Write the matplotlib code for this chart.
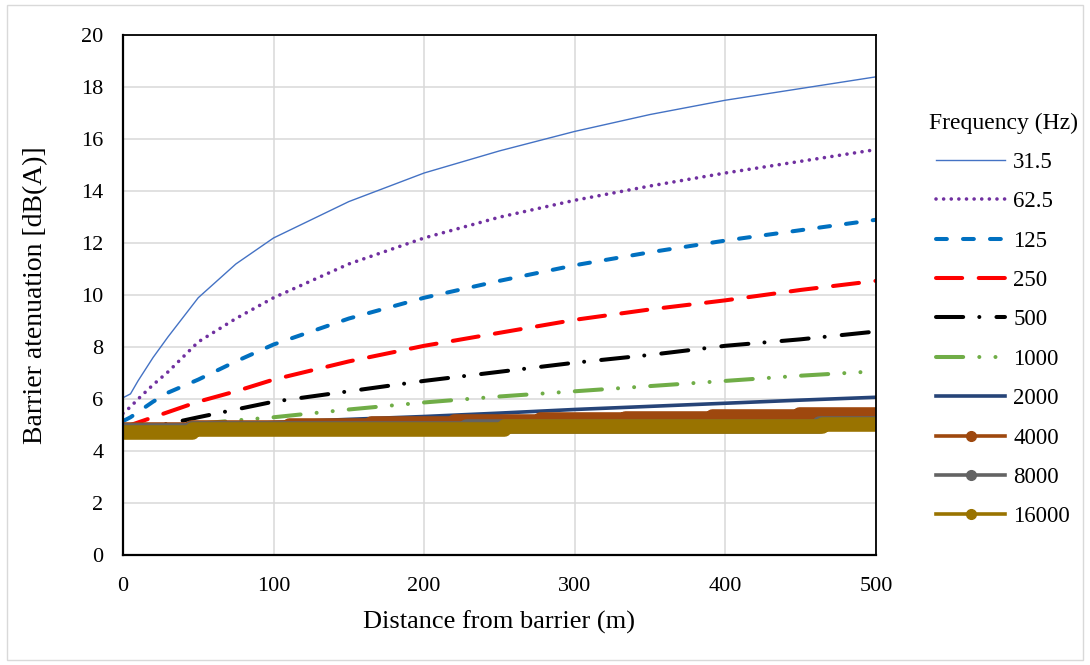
import numpy as np
import matplotlib
matplotlib.use("Agg")
import matplotlib.pyplot as plt
from matplotlib.lines import Line2D
from matplotlib.patches import Rectangle

plt.rcParams['font.family'] = ['Liberation Serif', 'DejaVu Serif']

# distance from barrier (m) for the smooth curves
dist = [0, 5, 10, 20, 30, 50, 75, 100, 150, 200, 250, 300, 350, 400, 450, 500]

att_31_5 = [6.05, 6.2, 6.7, 7.6, 8.4, 9.9, 11.2, 12.2, 13.6, 14.7, 15.55, 16.3, 16.95, 17.5, 17.95, 18.4]
att_62_5 = [5.45, 5.7, 6.0, 6.55, 7.05, 8.2, 9.1, 9.9, 11.2, 12.2, 13.0, 13.65, 14.2, 14.7, 15.15, 15.6]
att_125 = [5.15, 5.3, 5.5, 5.9, 6.25, 6.75, 7.45, 8.1, 9.1, 9.9, 10.55, 11.15, 11.65, 12.1, 12.5, 12.9]
att_250 = [4.9, 5.0, 5.1, 5.3, 5.5, 5.9, 6.3, 6.75, 7.45, 8.05, 8.55, 9.05, 9.45, 9.8, 10.2, 10.55]
att_500 = [4.8, 4.85, 4.9, 4.97, 5.05, 5.3, 5.6, 5.9, 6.3, 6.7, 7.05, 7.4, 7.7, 8.05, 8.3, 8.6]
att_1000 = [4.8, 4.8, 4.82, 4.85, 4.9, 5.05, 5.18, 5.3, 5.6, 5.87, 6.1, 6.3, 6.5, 6.7, 6.9, 7.07]
att_2000 = [4.8, 4.8, 4.82, 4.85, 4.87, 4.95, 5.02, 5.1, 5.22, 5.33, 5.46, 5.6, 5.72, 5.84, 5.96, 6.07]

# high frequencies come out in small steps
dist_4000 = [0, 45, 110, 165, 220, 277, 333, 391, 449, 500]
att_4000 = [4.85, 4.92, 5.0, 5.07, 5.15, 5.22, 5.29, 5.36, 5.43, 5.43]
dist_8000 = [0, 45, 228, 462, 500]
att_8000 = [4.8, 4.9, 4.98, 5.08, 5.08]
dist_16000 = [0, 46, 253, 464, 500]
att_16000 = [4.75, 4.85, 4.95, 5.03, 5.03]

freq_labels = ['31.5', '62.5', '125', '250', '500', '1000', '2000', '4000', '8000', '16000']

fig = plt.figure(figsize=(10.9, 6.65), dpi=100)
fig.patches.append(Rectangle((0.006, 0.008), 0.988, 0.984, transform=fig.transFigure,
                             fill=False, edgecolor='#d9d9d9', lw=1))
ax = fig.add_axes([0.1128, 0.1654, 0.6909, 0.7816])

ax.plot(dist, att_31_5, color='#4472C4', lw=1.0)
ax.plot(dist, att_62_5, color='#7030A0', lw=2.6, ls=(0, (0.01, 2.1)), dash_capstyle='round')
ax.plot(dist, att_125, color='#0070C0', lw=2.9, ls=(0, (2.7, 4.0)), dash_capstyle='round')
ax.plot(dist, att_250, color='#FF0000', lw=2.9, ls=(0, (6.5, 4.1)), dash_capstyle='round')
ax.plot(dist, att_500, color='black', lw=2.9, ls=(0, (6.75, 4.0, 0.01, 4.25)), dash_capstyle='round')
ax.plot(dist, att_1000, color='#70AD47', lw=2.9, ls=(0, (6.75, 4.0, 0.01, 4.0, 0.01, 4.0)),
        dash_capstyle='round')
ax.plot(dist, att_2000, color='#264478', lw=2.6)

thick = dict(lw=10.5, solid_capstyle='round', solid_joinstyle='round', drawstyle='steps-post')
ax.plot(dist_4000, att_4000, color='#9E480E', **thick)
ax.plot(dist_8000, att_8000, color='#636363', **thick)
ax.plot(dist_16000, att_16000, color='#997300', **thick)

ax.set_xlim(0, 500)
ax.set_ylim(0, 20)
ax.set_xticks(np.arange(0, 501, 100))
ax.set_yticks(np.arange(0, 21, 2))
ax.grid(True, color='#d9d9d9', lw=1.1)
ax.set_axisbelow(True)
ax.tick_params(length=0, labelsize=16)
ax.tick_params(axis='y', pad=14)
ax.tick_params(axis='x', pad=16)
for s in ax.spines.values():
    s.set_color('black')
    s.set_linewidth(1.3)
ax.spines['left'].set_linewidth(1.6)
ax.spines['bottom'].set_linewidth(1.6)

ax.set_xlabel('Distance from barrier (m)', fontsize=19, labelpad=10)
ax.set_ylabel('Barrier atenuation [dB(A)]', fontsize=20, labelpad=24)

# legend handles built by hand so the thick series show a normal line + marker
handles = [
    Line2D([], [], color='#4472C4', lw=1.0),
    Line2D([], [], color='#7030A0', lw=2.6, ls=(0, (0.01, 2.1)), dash_capstyle='round'),
    Line2D([], [], color='#0070C0', lw=2.9, ls=(0, (2.7, 4.0)), dash_capstyle='round'),
    Line2D([], [], color='#FF0000', lw=2.9, ls=(0, (6.5, 4.1)), dash_capstyle='round'),
    Line2D([], [], color='black', lw=2.9, ls=(0, (6.75, 4.0, 0.01, 4.25)), dash_capstyle='round'),
    Line2D([], [], color='#70AD47', lw=2.9, ls=(0, (6.75, 4.0, 0.01, 4.0, 0.01, 4.0)),
           dash_capstyle='round'),
    Line2D([], [], color='#264478', lw=2.6),
    Line2D([], [], color='#9E480E', lw=2.6, marker='o', markersize=7),
    Line2D([], [], color='#636363', lw=2.6, marker='o', markersize=7),
    Line2D([], [], color='#997300', lw=2.6, marker='o', markersize=7),
]
leg = fig.legend(handles, freq_labels, title='Frequency (Hz)', loc='upper left',
                 bbox_to_anchor=(0.833, 0.862), frameon=False, fontsize=16.5, title_fontsize=17,
                 handlelength=3.0, handletextpad=0.35, labelspacing=0.8, numpoints=1)

fig.savefig('out.png', dpi=100)
